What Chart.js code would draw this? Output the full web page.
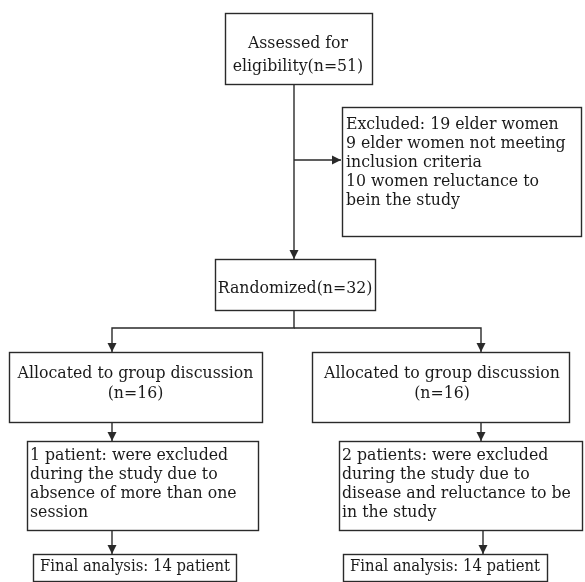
<!DOCTYPE html>
<html>
<head>
<meta charset="utf-8">
<script src="https://cdn.jsdelivr.net/npm/chart.js@4/dist/chart.umd.min.js"></script>
<style>
  html, body { margin: 0; padding: 0; background: #ffffff; }
  #wrap { width: 585px; height: 582px; }
</style>
</head>
<body>
<div id="wrap"><canvas id="c" width="585" height="582"></canvas></div>
<script>
// ---- content (flowchart node texts) ----
const nodeIds = ['assessed', 'excluded', 'randomized', 'allocL', 'allocR', 'lostL', 'lostR', 'finalL', 'finalR'];
const nodeText = [
  ['Assessed for', 'eligibility(n=51)'],
  ['Excluded: 19 elder women', '9 elder women not meeting', 'inclusion criteria', '10 women reluctance to', 'bein the study'],
  ['Randomized(n=32)'],
  ['Allocated to group discussion', '(n=16)'],
  ['Allocated to group discussion', '(n=16)'],
  ['1 patient: were excluded', 'during the study due to', 'absence of more than one', 'session'],
  ['2 patients: were excluded', 'during the study due to', 'disease and reluctance to be', 'in the study'],
  ['Final analysis: 14 patient'],
  ['Final analysis: 14 patient']
];
const edgeFrom = ['assessed', 'assessed', 'randomized', 'randomized', 'allocL', 'allocR', 'lostL', 'lostR'];
const edgeTo   = ['randomized', 'excluded', 'allocL', 'allocR', 'lostL', 'lostR', 'finalL', 'finalR'];

// ---- layout (diagram units: x 0..585, y 0..582 top-down) ----
const layout = {
  assessed:   { box: [225, 13, 372, 84],  align: 'center', tx: 298,   ty: 43,  lh: 23, fs: 17.5 },
  excluded:   { box: [342, 107, 581, 236], align: 'left',  tx: 346,   ty: 124, lh: 19, fs: 17.5 },
  randomized: { box: [215, 259, 375, 310], align: 'center', tx: 295,  ty: 288, lh: 19, fs: 17.5 },
  allocL:     { box: [9, 352, 262, 422],  align: 'center', tx: 135.5, ty: 373, lh: 20, fs: 17.5 },
  allocR:     { box: [312, 352, 569, 422], align: 'center', tx: 442,  ty: 373, lh: 20, fs: 17.5 },
  lostL:      { box: [27, 441, 258, 530], align: 'left',   tx: 30,    ty: 455, lh: 19, fs: 17.5 },
  lostR:      { box: [339, 441, 582, 530], align: 'left',  tx: 342,   ty: 455, lh: 19, fs: 17.5 },
  finalL:     { box: [33, 554, 236, 581], align: 'center', tx: 135,   ty: 567, lh: 19, fs: 16.5 },
  finalR:     { box: [343, 554, 547, 581], align: 'center', tx: 445,  ty: 567, lh: 19, fs: 16.5 }
};
// connector paths (polyline points), last point gets an arrowhead
const edgePaths = [
  [[294, 84], [294, 259]],
  [[294, 160], [341, 160]],
  [[294, 310], [294, 328], [112, 328], [112, 352]],
  [[294, 328], [481, 328], [481, 352]],
  [[112, 422], [112, 441]],
  [[481, 422], [481, 441]],
  [[112, 530], [112, 554]],
  [[483, 530], [483, 554]]
];

const lineColor = '#2a2a2a';
const textColor = '#1a1a1a';
const fontFamily = '"DejaVu Serif Condensed", "DejaVu Serif"';

const flowPlugin = {
  id: 'flow',
  afterDraw(chart) {
    const ctx = chart.ctx;
    const xs = chart.scales.x, ys = chart.scales.y;
    const X = v => xs.getPixelForValue(v);
    const Y = v => ys.getPixelForValue(v);
    ctx.save();
    ctx.lineWidth = 1.4;
    ctx.strokeStyle = lineColor;
    ctx.fillStyle = lineColor;
    // edges
    edgePaths.forEach(path => {
      ctx.beginPath();
      path.forEach((p, i) => {
        const px = X(p[0]), py = Y(p[1]);
        if (i === 0) ctx.moveTo(px, py); else ctx.lineTo(px, py);
      });
      ctx.stroke();
      const a = path[path.length - 2], b = path[path.length - 1];
      const ax = X(a[0]), ay = Y(a[1]), bx = X(b[0]), by = Y(b[1]);
      const ang = Math.atan2(by - ay, bx - ax);
      const L = 9, W = 4.5;
      ctx.beginPath();
      ctx.moveTo(bx, by);
      ctx.lineTo(bx - L * Math.cos(ang) + W * Math.sin(ang), by - L * Math.sin(ang) - W * Math.cos(ang));
      ctx.lineTo(bx - L * Math.cos(ang) - W * Math.sin(ang), by - L * Math.sin(ang) + W * Math.cos(ang));
      ctx.closePath();
      ctx.fill();
    });
    // boxes
    nodeIds.forEach((id, i) => {
      const L = layout[id];
      const [x1, y1, x2, y2] = L.box;
      ctx.fillStyle = '#ffffff';
      ctx.fillRect(X(x1), Y(y1), X(x2) - X(x1), Y(y2) - Y(y1));
      ctx.strokeStyle = lineColor;
      ctx.strokeRect(Math.round(X(x1)) + 0.5, Math.round(Y(y1)) + 0.5, Math.round(X(x2) - X(x1)), Math.round(Y(y2) - Y(y1)));
      ctx.fillStyle = textColor;
      ctx.font = L.fs + 'px ' + fontFamily;
      ctx.textAlign = L.align;
      ctx.textBaseline = 'middle';
      nodeText[i].forEach((line, k) => {
        ctx.fillText(line, X(L.tx), Y(L.ty + k * L.lh));
      });
    });
    ctx.restore();
  }
};

const centers = nodeIds.map(id => {
  const b = layout[id].box;
  return { x: (b[0] + b[2]) / 2, y: (b[1] + b[3]) / 2 };
});

new Chart(document.getElementById('c'), {
  type: 'scatter',
  data: { datasets: [{ label: 'nodes', data: centers, pointRadius: 0, pointHoverRadius: 0 }] },
  options: {
    responsive: false,
    animation: false,
    events: [],
    layout: { padding: 0 },
    plugins: { legend: { display: false }, tooltip: { enabled: false } },
    scales: {
      x: { type: 'linear', min: 0, max: 585, display: false },
      y: { type: 'linear', min: 0, max: 582, reverse: true, display: false }
    }
  },
  plugins: [flowPlugin]
});
</script>
</body>
</html>
